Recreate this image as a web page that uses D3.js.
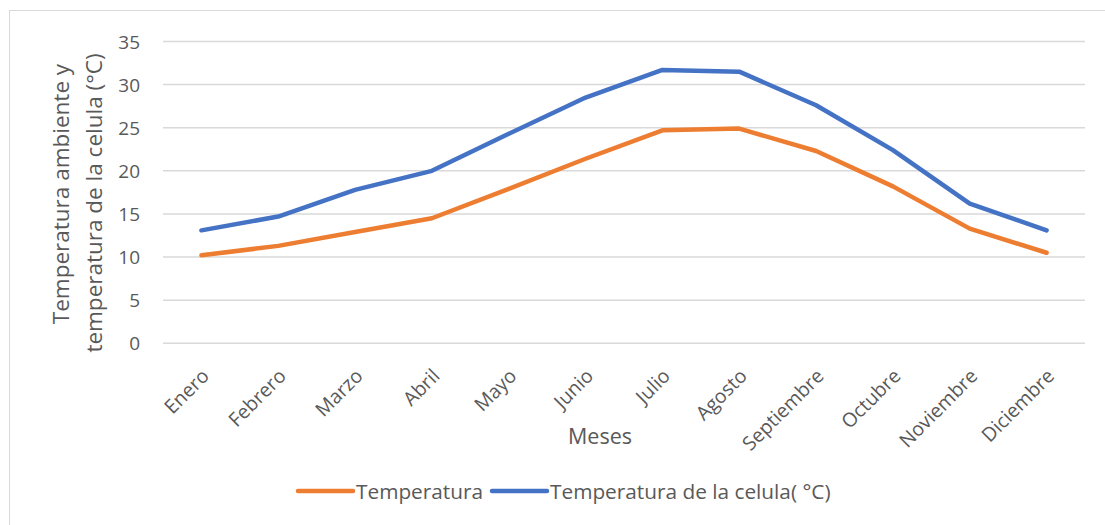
<!DOCTYPE html>
<html>
<head>
<meta charset="utf-8">
<script src="https://cdn.jsdelivr.net/npm/d3@7"></script>
<style>
  body { margin: 0; background: #fff; }
  text { font-family: "Open Sans", sans-serif; fill: #595959; }
</style>
</head>
<body>
<svg id="chart"></svg>
<script>
// chart data
const months = ["Enero", "Febrero", "Marzo", "Abril", "Mayo", "Junio", "Julio",
  "Agosto", "Septiembre", "Octubre", "Noviembre", "Diciembre"];
const tempAmbient = [10.2, 11.3, 12.9, 14.5, 17.9, 21.4, 24.7, 24.9, 22.3, 18.2, 13.3, 10.5];
const tempCell = [13.1, 14.7, 17.8, 20.0, 24.3, 28.5, 31.7, 31.5, 27.6, 22.4, 16.2, 13.1];
const yTicks = [0, 5, 10, 15, 20, 25, 30, 35];
const seriesNames = ["Temperatura", "Temperatura de la celula( °C)"];

const width = 1105, height = 525;
const colors = ["#ed7d31", "#4472c4"];

let svg = d3.select("#chart")
  .attr("width", width)
  .attr("height", height);

// chart frame
svg.append("rect")
  .attr("x", 9.5).attr("y", 10.5)
  .attr("width", 1110).attr("height", 530)
  .attr("fill", "#fff")
  .attr("stroke", "#d9d9d9")
  .attr("stroke-width", 1);

// plot area bounds
const plot = { left: 163, right: 1085, top: 41.5, bottom: 343.3 };

let x = d3.scaleBand()
  .domain(months)
  .range([plot.left, plot.right]);

let y = d3.scaleLinear()
  .domain([0, 35])
  .range([plot.bottom, plot.top]);

// gridlines
svg.append("g")
  .selectAll("line")
  .data(yTicks)
  .enter().append("line")
  .attr("x1", plot.left).attr("x2", plot.right)
  .attr("y1", d => y(d)).attr("y2", d => y(d))
  .attr("stroke", "#d9d9d9")
  .attr("stroke-width", 1.5);

// y axis labels
let yAxis = d3.axisLeft(y).tickValues(yTicks).tickSize(0).tickPadding(0);
let yg = svg.append("g")
  .attr("transform", "translate(140,0)")
  .call(yAxis);
yg.select(".domain").remove();
yg.selectAll("text")
  .attr("font-size", 19)
  .attr("font-family", "Open Sans")
  .attr("fill", "#595959")
  .attr("dy", "0.35em");

// x axis labels (rotated)
let xAxis = d3.axisBottom(x).tickSize(0).tickPadding(0);
let xg = svg.append("g")
  .attr("transform", "translate(0," + plot.bottom + ")")
  .call(xAxis);
xg.select(".domain").remove();
xg.selectAll("text")
  .attr("font-size", 19.5)
  .attr("font-family", "Open Sans")
  .attr("fill", "#595959")
  .attr("y", 0).attr("dy", 0)
  .attr("text-anchor", "end")
  .attr("transform", "translate(9,34) rotate(-45)");

// lines
let line = d3.line()
  .x((d, i) => x(months[i]) + x.bandwidth() / 2)
  .y(d => y(d));

[tempAmbient, tempCell].forEach((s, k) => {
  svg.append("path")
    .datum(s)
    .attr("d", line)
    .attr("fill", "none")
    .attr("stroke", colors[k])
    .attr("stroke-width", 4.5)
    .attr("stroke-linecap", "round")
    .attr("stroke-linejoin", "round");
});

// axis titles
svg.append("text")
  .attr("transform", "translate(69,194) rotate(-90)")
  .attr("text-anchor", "middle")
  .attr("font-size", 22.5)
  .text("Temperatura ambiente y");
svg.append("text")
  .attr("transform", "translate(102,203) rotate(-90)")
  .attr("text-anchor", "middle")
  .attr("font-size", 22.5)
  .text("temperatura de la celula (°C)");

svg.append("text")
  .attr("x", 600).attr("y", 444)
  .attr("text-anchor", "middle")
  .attr("font-size", 21.5)
  .text("Meses");

// legend
const legendX = [298, 492];
let legend = svg.append("g");
seriesNames.forEach((name, k) => {
  legend.append("line")
    .attr("x1", legendX[k]).attr("x2", legendX[k] + 55)
    .attr("y1", 491).attr("y2", 491)
    .attr("stroke", colors[k])
    .attr("stroke-width", 4.5)
    .attr("stroke-linecap", "round");
  legend.append("text")
    .attr("x", legendX[k] + 58)
    .attr("y", 499)
    .attr("font-size", 20.8)
    .text(name);
});
</script>
</body>
</html>
